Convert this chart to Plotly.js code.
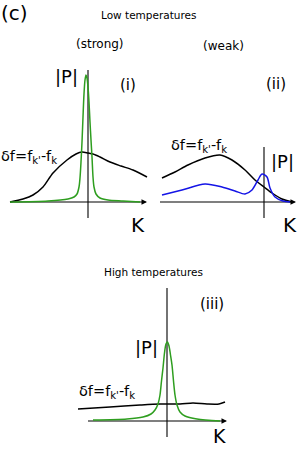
<!DOCTYPE html>
<html>
<head>
<meta charset="utf-8">
<script src="https://cdn.plot.ly/plotly-3.0.1.min.js"></script>
<style>html,body{margin:0;padding:0;background:#fff;}#chart{width:300px;height:449px;}</style>
</head>
<body>
<div id="chart"></div>
<script>
// ---------- Data (schematic values) ----------
// Panel (i): low temperature, strong
const kI_df = [-78, -65, -55, -45, -35, -21, -12, -6, 0, 5, 12, 22, 33, 45, 59];
const dfI   = [0, 3, 7, 15, 29, 42, 48, 50, 49, 48, 45, 40, 36, 32, 25];
const kI_P  = [-78, -40, -20, -14, -11, -9, -8, -7, -6, -5, -4, -3, -2, -1, 0, 1, 2, 3, 4, 5, 6, 8, 12, 20, 35, 52];
const PI    = [0, 1, 3, 5, 8, 15, 24, 40, 60, 85, 108, 122, 127, 124, 115, 100, 80, 62, 45, 25, 15, 8, 4, 2, 1, 0];

// Panel (ii): low temperature, weak
const kII_df = [-102, -89, -76, -59, -44, -32, -19, -9, 0, 8, 18, 28];
const dfII   = [24, 30, 37, 44, 47, 42, 32, 22, 15, 9, 3, 0];
const kII_P  = [-102, -82, -59, -42, -29, -19, -12, -6, -2, 3, 6, 11, 19, 26];
const PII    = [7, 12, 18, 15, 11, 8, 12, 22, 28, 25, 14, 5, 1, 0];

// Panel (iii): high temperature
const kIII_df = [-89, -57, -27, -7, 13, 26, 40, 52, 58];
const dfIII   = [12, 14, 16, 17, 17, 18, 17, 17, 19];
const kIII_P  = [-74, -40, -24, -16, -12, -9, -7, -5.5, -4, -2.5, -1, 0.5, 2, 3.5, 5, 6.5, 8, 10, 13, 18, 30, 53];
const PIII    = [1, 2, 4, 7, 11, 17, 26, 40, 53, 68, 77, 79, 75, 66, 56, 40, 26, 16, 9, 5, 2, 0];

// Axis extents of each sketch: [kStart, kEnd] and vertical line [bottom, top]
const kAxisI = [-78, 59],   vLineI = [-16, 132];
const kAxisII = [-104, 32], vLineII = [-16, 55];
const kAxisIII = [-79, 60], vLineIII = [-16, 133];

// Text labels
const dfLabel = "δf=f<sub>k'</sub>-f<sub>k</sub>";
const pLabel = "|P|";
const kLabel = "K";

// ---------- Layout helpers ----------
const W = 300, H = 449;
const BLACK = '#000000', GREEN = '#2e9e1f', BLUE = '#1414e6';
const FONT = 'DejaVu Sans, sans-serif';
// panel origins (where K axis meets vertical line), in page pixels
const origins = [[88, 202], [264, 202], [167, 421]];
const sfx = ['', '2', '3'];

const layout = {
  width: W, height: H,
  margin: {l: 0, r: 0, t: 0, b: 0, pad: 0},
  paper_bgcolor: '#ffffff', plot_bgcolor: 'rgba(0,0,0,0)',
  showlegend: false,
  font: {family: FONT, color: '#000'},
  annotations: []
};
origins.forEach((o, i) => {
  const xa = {range: [-o[0], W - o[0]], visible: false, fixedrange: true, autorange: false};
  const ya = {range: [o[1] - H, o[1]], visible: false, fixedrange: true, autorange: false};
  if (i > 0) {
    xa.overlaying = 'x'; xa.anchor = 'y' + sfx[i];
    ya.overlaying = 'y'; ya.anchor = 'x' + sfx[i];
  }
  layout['xaxis' + sfx[i]] = xa;
  layout['yaxis' + sfx[i]] = ya;
});

function line(x, y, color, width, i, spline) {
  return {x: x, y: y, type: 'scatter', mode: 'lines', xaxis: 'x' + sfx[i], yaxis: 'y' + sfx[i],
          line: {color: color, width: width, shape: spline ? 'spline' : 'linear', smoothing: 0.8},
          hoverinfo: 'skip'};
}

const traces = [];
const kAxes = [kAxisI, kAxisII, kAxisIII];
const vLines = [vLineI, vLineII, vLineIII];
// vertical lines
vLines.forEach((v, i) => traces.push(line([0, 0], v, BLACK, 1.1, i, false)));
// K axes (arrow heads via annotations)
kAxes.forEach((k, i) => {
  traces.push(line([k[0], k[1] - 3], [0, 0], BLACK, 1.1, i, false));
  layout.annotations.push({x: k[1], y: 0, ax: k[1] - 6, ay: 0, xref: 'x' + sfx[i], yref: 'y' + sfx[i],
    axref: 'x' + sfx[i], ayref: 'y' + sfx[i], showarrow: true, arrowhead: 2, arrowsize: 1,
    arrowwidth: 1.1, arrowcolor: BLACK, text: '', standoff: 0, startstandoff: 0});
});
// curves
traces.push(line(kI_df, dfI, BLACK, 1.5, 0, true));
traces.push(line(kI_P, PI, GREEN, 1.5, 0, true));
traces.push(line(kII_df, dfII, BLACK, 1.5, 1, true));
traces.push(line(kII_P, PII, BLUE, 1.5, 1, true));
traces.push(line(kIII_df, dfIII, BLACK, 1.5, 2, true));
traces.push(line(kIII_P, PIII, GREEN, 1.5, 2, true));

// text labels in page pixels
function txt(text, px, py, size, xanchor) {
  layout.annotations.push({text: text, x: px / W, y: 1 - py / H, xref: 'paper', yref: 'paper',
    xanchor: xanchor || 'center', yanchor: 'middle', showarrow: false,
    font: {family: FONT, size: size, color: '#000'}, borderpad: 0});
}
txt('(c)', 0, 13, 20, 'left');
txt('Low temperatures', 148.5, 15, 10.5);
txt('(strong)', 100, 44, 12);
txt('(weak)', 223, 46, 12);
txt(pLabel, 66.5, 76, 18);
txt('(i)', 127.5, 85, 15);
txt('(ii)', 275.5, 84, 15);
txt(dfLabel, 0, 157, 14.5, 'left');
txt(dfLabel, 170, 146, 14.5, 'left');
txt(pLabel, 282.5, 161, 18);
txt(kLabel, 137.5, 225, 20);
txt(kLabel, 290, 225, 20);
txt('High temperatures', 153, 272, 10.5);
txt('(iii)', 211.5, 304, 15);
txt(pLabel, 146, 347, 18);
txt(dfLabel, 78, 392, 14.5, 'left');
txt(kLabel, 220, 436, 19);

Plotly.newPlot('chart', traces, layout, {staticPlot: true, displayModeBar: false});
</script>
</body>
</html>
